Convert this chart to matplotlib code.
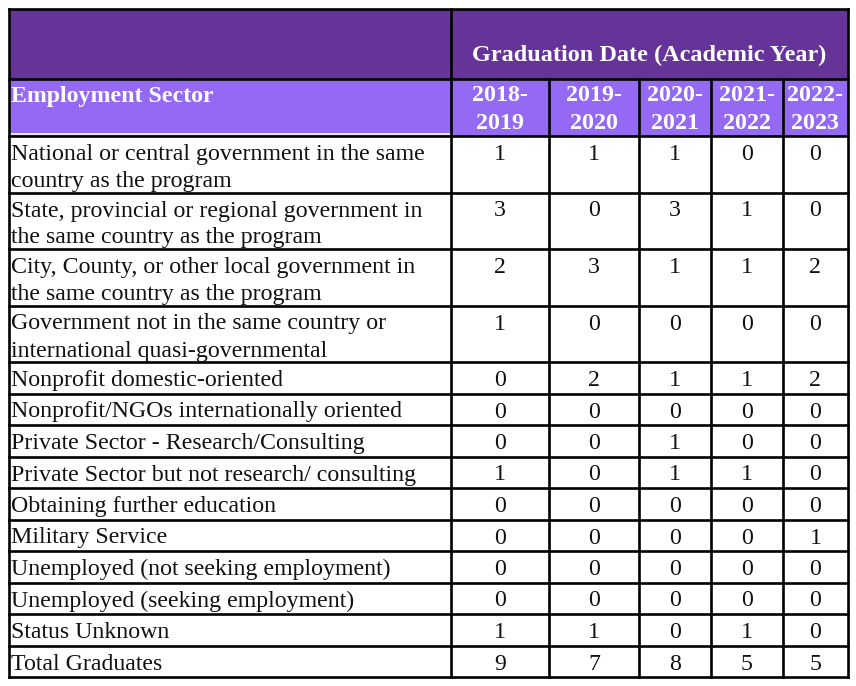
import matplotlib.pyplot as plt
from matplotlib.patches import Rectangle

plt.rcParams['font.family'] = ['Liberation Serif', 'DejaVu Serif']

# table data
sectors = [
    "National or central government in the same\ncountry as the program",
    "State, provincial or regional government in\nthe same country as the program",
    "City, County, or other local government in\nthe same country as the program",
    "Government not in the same country or\ninternational quasi-governmental",
    "Nonprofit domestic-oriented",
    "Nonprofit/NGOs internationally oriented",
    "Private Sector - Research/Consulting",
    "Private Sector but not research/ consulting",
    "Obtaining further education",
    "Military Service",
    "Unemployed (not seeking employment)",
    "Unemployed (seeking employment)",
    "Status Unknown",
    "Total Graduates",
]
years = ["2018-\n2019", "2019-\n2020", "2020-\n2021", "2021-\n2022", "2022-\n2023"]
y2018 = [1, 3, 2, 1, 0, 0, 0, 1, 0, 0, 0, 0, 1]
y2019 = [1, 0, 3, 0, 2, 0, 0, 0, 0, 0, 0, 0, 1]
y2020 = [1, 3, 1, 0, 1, 0, 1, 1, 0, 0, 0, 0, 0]
y2021 = [0, 1, 1, 0, 1, 0, 0, 1, 0, 0, 0, 0, 1]
y2022 = [0, 0, 2, 0, 2, 0, 0, 0, 0, 1, 0, 0, 0]
totals = [9, 7, 8, 5, 5]

dark = '#663399'
light = '#9469F3'
lw = 1.9
fs = 17.2

fig = plt.figure(figsize=(8.56, 6.86), dpi=100)
ax = fig.add_axes([0, 0, 1, 1])
ax.set_xlim(0, 856)
ax.set_ylim(686, 0)
ax.axis('off')

cols = [9, 451, 549, 639, 711, 783, 848]
top, h1, h2 = 9, 79, 136
single, double, linestep = 31.5, 56.5, 27

columns = [y2018, y2019, y2020, y2021, y2022]
values = [list(r) for r in zip(*columns)] + [totals]

# header backgrounds
ax.add_patch(Rectangle((cols[0], top), cols[-1] - cols[0], h1 - top, color=dark, lw=0))
ax.add_patch(Rectangle((cols[0], h1), cols[-1] - cols[0], h2 - h1, color=light, lw=0))
ax.plot([cols[0], cols[1]], [h2 - 2.2, h2 - 2.2], color='white', lw=1.2)

ax.text((cols[1] + cols[-1]) / 2, 61, "Graduation Date (Academic Year)", color='white',
        fontsize=17.5, fontweight='bold', ha='center', va='baseline')
ax.text(cols[0] + 2, h1 + 23, "Employment Sector", color='white',
        fontsize=fs, fontweight='bold', ha='left', va='baseline')
for j, yr in enumerate(years):
    cx = (cols[j + 1] + cols[j + 2]) / 2
    for k, part in enumerate(yr.split('\n')):
        ax.text(cx, h1 + 22 + k * 28, part, color='white', fontsize=17.3,
                fontweight='bold', ha='center', va='baseline')

# body rows
y = h2
row_edges = [y]
for name, vals in zip(sectors, values):
    lines = name.split('\n')
    h = double if len(lines) > 1 else single
    for k, line in enumerate(lines):
        ax.text(cols[0] + 2, y + 24 + k * linestep, line, color='#111111',
                fontsize=fs, ha='left', va='baseline')
    for j, v in enumerate(vals):
        ax.text((cols[j + 1] + cols[j + 2]) / 2, y + 24, str(v), color='#111111',
                fontsize=fs, ha='center', va='baseline')
    y += h
    row_edges.append(y)

# grid lines
for ry in [top, h1] + row_edges:
    ax.plot([cols[0], cols[-1]], [ry, ry], color='black', lw=lw, solid_capstyle='projecting')
for i, cx in enumerate(cols):
    y0 = top if i in (0, 1, len(cols) - 1) else h1
    ax.plot([cx, cx], [y0, row_edges[-1]], color='black', lw=lw, solid_capstyle='projecting')

fig.savefig('out.png', dpi=100, facecolor='white')
